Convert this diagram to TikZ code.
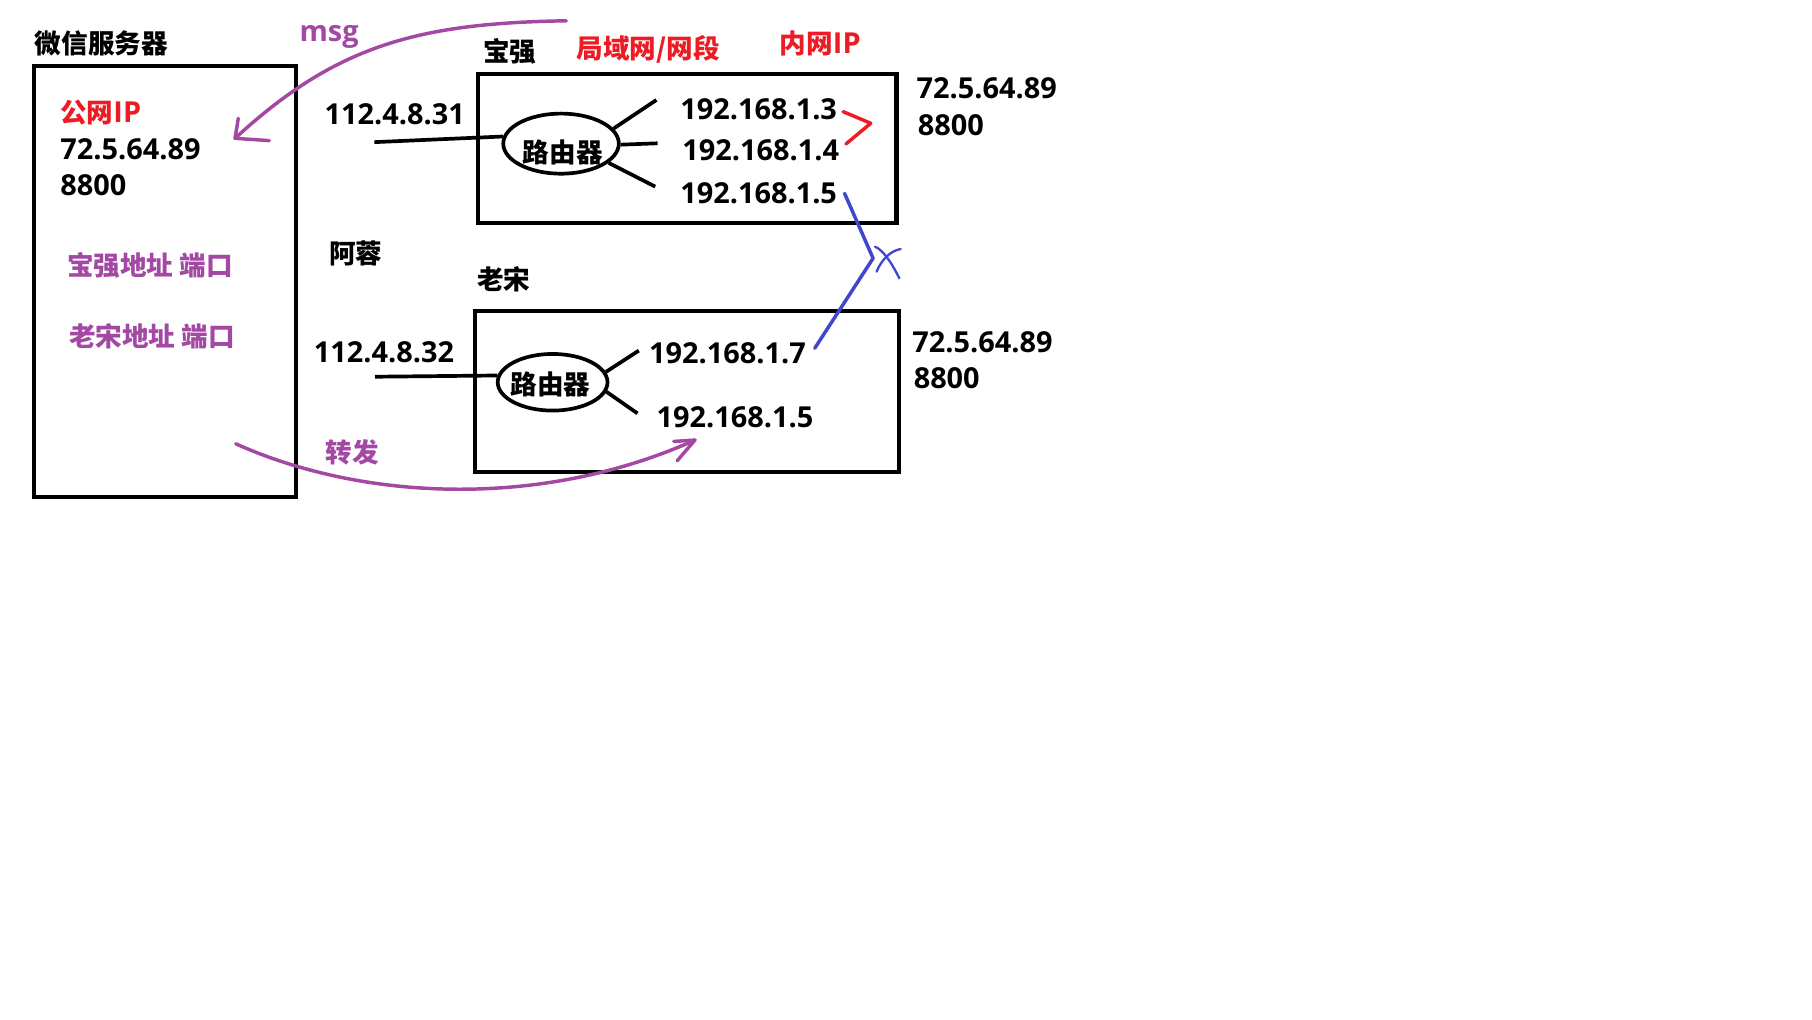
\documentclass[tikz,border=0pt]{standalone}
\usepackage{fontspec}
\setmainfont{Open Sans}
\newfontfamily\cjk{Noto Sans CJK SC}
\usetikzlibrary{shapes.geometric}
\definecolor{pred}{RGB}{237,28,36}
\definecolor{ppurple}{RGB}{163,73,164}
\definecolor{pblue}{RGB}{63,72,204}
\newcommand\hanzi[1]{{\fontsize{23}{28}\selectfont\cjk\bfseries #1}}
\begin{document}
\begin{tikzpicture}[x=1pt,y=-1pt,
  lat/.style={font=\fontsize{25}{30}\selectfont\bfseries, inner sep=0pt, anchor=west},
  han/.style={font=\fontsize{23}{28}\selectfont\cjk\bfseries, inner sep=0pt, anchor=west},
  frame/.style={draw, line width=3.5pt, inner sep=0pt, anchor=north west},
  router/.style={draw, ellipse, line width=3.2pt, inner sep=0pt},
  wire/.style={line width=3.2pt},
  pen/.style={line width=3pt, line cap=round, line join=round},
  thinpen/.style={line width=2pt, line cap=round, line join=round}]
\useasboundingbox[fill=white] (0,0) rectangle (1568,882.6);

% ---------- WeChat server ----------
\node[han] (srvt) at (30,37.7) {微信服务器};
\node[frame, minimum width=226pt, minimum height=373pt] (srv) at (28,55) {};
\node[lat, text=pred] (pub) at (52,97.7) {\hanzi{公网}IP};
\node[lat] (sip) at (52,128.8) {72.5.64.89};
\node[lat] (sport) at (52,160.5) {8800};
\node[han, text=ppurple] (bqa) at (58,230) {宝强地址 端口};
\node[han, text=ppurple] (lsa) at (59.6,291) {老宋地址 端口};

% ---------- labels in the middle ----------
\node[lat, text=ppurple, anchor=base west] (msg) at (259,36) {msg};
\node[lat] (pip1) at (280.8,99.1) {112.4.8.31};
\node[han] (arong) at (284.8,219) {阿蓉};
\node[lat] (pip2) at (271.5,305) {112.4.8.32};
\node[han, text=ppurple] (fwd) at (281.5,391.6) {转发};

% ---------- Baoqiang LAN ----------
\node[han] (bqt) at (418.1,44.7) {宝强};
\node[han, text=pred] (lan) at (498.9,43) {局域网/网段};
\node[lat, text=pred] (inip) at (674.6,37.5) {\hanzi{内网}IP};
\node[frame, minimum width=362pt, minimum height=129pt] (bq) at (412,62) {};
\node[router, minimum width=100pt, minimum height=52pt] (r1) at (485.5,124.3) {};
\node[han, anchor=center] (r1t) at (487,131.6) {路由器};
\node[lat] (ip13) at (588.5,94.5) {192.168.1.3};
\node[lat] (ip14) at (590.3,130) {192.168.1.4};
\node[lat] (ip15) at (588.5,167.6) {192.168.1.5};
\node[lat] (bqip) at (793,76.4) {72.5.64.89};
\node[lat] (bqport) at (794,108.2) {8800};

% ---------- Laosong LAN ----------
\node[han] (lst) at (412.8,242) {老宋};
\node[frame, minimum width=367pt, minimum height=140pt] (ls) at (409,267) {};
\node[router, minimum width=95pt, minimum height=49pt] (r2) at (478.2,330.8) {};
\node[han, anchor=center] (r2t) at (476.4,332.9) {路由器};
\node[lat] (ip17) at (561.6,306) {192.168.1.7};
\node[lat] (ip25) at (568,361) {192.168.1.5};
\node[lat] (lsip) at (789.4,296) {72.5.64.89};
\node[lat] (lsport) at (790.5,327.4) {8800};

% ---------- wires ----------
\coordinate (w1) at (324,123);
\coordinate (b11) at (568,86.5);
\coordinate (b12) at (569,124);
\coordinate (b13) at (567,161.5);
\draw[wire] (w1) -- (r1.173);
\draw[wire] (r1.16) -- (b11);
\draw[wire] (r1.359) -- (b12);
\draw[wire] (r1.338) -- (b13);

\coordinate (w2) at (324.5,326);
\coordinate (b21) at (552.8,303.4);
\coordinate (b22) at (551.6,357.7);
\draw[wire] (w2) -- (r2.173);
\draw[wire] (r2.11) -- (b21);
\draw[wire] (r2.350) -- (b22);

% ---------- red bracket ----------
\draw[pen, draw=pred] (729.5,96.6) -- (753.5,106.7) -- (732,124.6);

% ---------- blue blocked link ----------
\coordinate (bs) at (730.8,167.3);
\coordinate (bk) at (755.5,223.5);
\coordinate (be) at (705,301.4);
\draw[pen, draw=pblue] (bs) -- (bk) -- (be);
\draw[thinpen, draw=pblue] (757.2,213.5) .. controls (764,216) and (772,228) .. (778.2,240.8);
\draw[thinpen, draw=pblue] (779.4,215.5) .. controls (770,217) and (762,226) .. (758.6,235.1);

% ---------- msg arrow ----------
\coordinate (ms) at (490,18);
\coordinate (mt) at (203.4,119.7);
\draw[pen, draw=ppurple] (ms) .. controls (360,20) and (290,40) .. (mt);
\draw[pen, draw=ppurple] (206.2,102.4) -- (mt) -- (233,121.7);

% ---------- forward arrow ----------
\coordinate (fs) at (204,384);
\coordinate (ft) at (601.4,380.8);
\draw[pen, draw=ppurple] (fs) .. controls (315,434) and (470,440) .. (ft);
\draw[pen, draw=ppurple] (583,382) -- (ft) -- (586,398.7);
\end{tikzpicture}
\end{document}
